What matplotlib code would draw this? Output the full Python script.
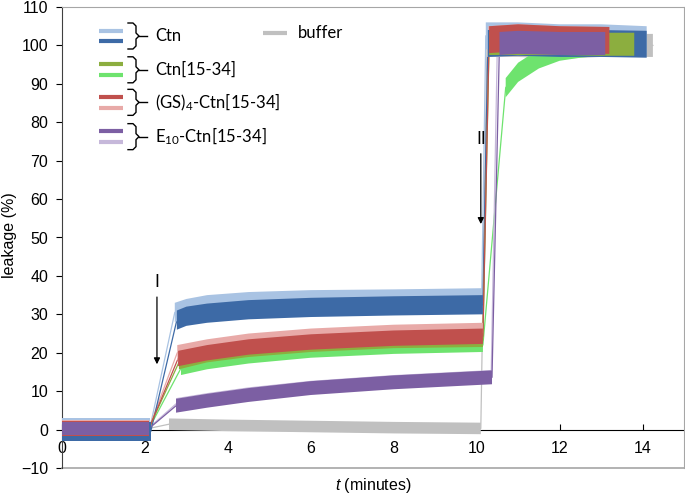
import matplotlib
matplotlib.use("Agg")
import matplotlib.pyplot as plt
from matplotlib.lines import Line2D
import numpy as np

plt.rcParams["font.family"] = "Liberation Sans"
plt.rcParams["mathtext.fontset"] = "custom"
plt.rcParams["mathtext.it"] = "Liberation Sans:italic"
plt.rcParams["mathtext.rm"] = "Liberation Sans"

# -----------------------
# DATA (nan = gap where the cuvette was opened)
# -----------------------
GAP = np.nan

ctn_light_t = [0, 2.12, GAP, 2.72, 3.0, 3.5, 4.5, 6.0, 8.0, 10.12, GAP, 10.22, 11.0, 12.0, 13.0, 14.1]
ctn_light_v = [0.5, 0.5, GAP, 30.5, 31.5, 32.5, 33.3, 33.8, 34.0, 34.3, GAP, 102.5, 102.5, 102.0, 102.0, 101.5]

ctn_dark_t = [0, 2.14, GAP, 2.77, 3.0, 3.5, 4.5, 6.0, 8.0, 10.15, GAP, 10.27, 11.0, 12.0, 13.0, 14.1]
ctn_dark_v = [-0.5, -0.5, GAP, 28.5, 29.5, 30.3, 31.2, 31.8, 32.2, 32.5, GAP, 100.5, 100.8, 100.5, 100.5, 100.3]

olive_t = [0, 2.1, GAP, 2.82, 3.5, 4.5, 6.0, 8.0, 10.15, GAP, 10.3, 11.0, 12.0, 13.0, 13.8]
olive_v = [0.5, 0.5, GAP, 17.5, 19.3, 20.7, 22.0, 23.0, 23.3, GAP, 100.5, 100.5, 100.5, 100.3, 100.3]

green_t = [0, 2.1, GAP, 2.87, 3.5, 4.5, 6.0, 8.0, 10.15, GAP, 10.7, 11.0, 11.5, 12.0, 12.5, 13.0, 13.6]
green_v = [0.3, 0.3, GAP, 16.0, 17.5, 19.0, 20.5, 21.5, 22.0, GAP, 89.0, 93.0, 96.5, 98.5, 99.3, 99.8, 100.0]

red_t = [0, 2.1, GAP, 2.8, 3.5, 4.5, 6.0, 8.0, 10.15, GAP, 10.3, 11.0, 12.0, 13.2]
red_v = [0.3, 0.3, GAP, 18.5, 20.0, 21.5, 22.8, 23.8, 24.3, GAP, 101.5, 102.0, 101.5, 101.3]

pink_t = [0, 2.1, GAP, 2.78, 3.5, 4.5, 6.0, 8.0, 10.15, GAP, 10.28, 11.0, 12.0, 13.2]
pink_v = [0.5, 0.5, GAP, 20.0, 21.5, 23.0, 24.3, 25.3, 25.8, GAP, 102.0, 102.5, 102.0, 101.8]

purple_t = [0, 2.1, GAP, 2.75, 3.5, 4.5, 6.0, 8.0, 10.37, GAP, 10.55, 11.0, 12.0, 13.1]
purple_v = [0.3, 0.3, GAP, 6.2, 7.5, 9.0, 10.8, 12.3, 13.6, GAP, 100.5, 100.8, 100.5, 100.5]

lavender_t = [0, 2.1, GAP, 2.75, 3.5, 4.5, 6.0, 8.0, 10.35, GAP, 10.5, 11.0, 12.0, 13.1]
lavender_v = [0.5, 0.5, GAP, 6.7, 8.0, 9.5, 11.2, 12.7, 14.0, GAP, 101.0, 101.3, 101.0, 101.0]

buffer_t = [0, 2.1, GAP, 2.58, 4.0, 6.0, 8.0, 10.1, GAP, 10.25, 11.0, 12.0, 13.0, 14.25]
buffer_v = [0.3, 0.3, GAP, 1.4, 1.1, 0.8, 0.5, 0.3, GAP, 100.0, 100.0, 99.5, 100.0, 100.0]

# noise half-width of each trace (%): (below 50 %, after full lysis)
noise = {"ctn_light": (2.5, 3.5), "ctn_dark": (2.5, 3.5), "olive": (1.8, 3.0),
         "green": (1.8, 2.5), "red": (2.0, 3.5), "pink": (2.0, 3.0),
         "purple": (1.8, 3.0), "lavender": (1.5, 2.5), "buffer": (1.5, 3.0)}

colors = {"ctn_light": "#a9c3e3", "ctn_dark": "#3d6aa6", "olive": "#8cae3f",
          "green": "#6ee36e", "red": "#c0504d", "pink": "#e8aaa8",
          "purple": "#7c5fa3", "lavender": "#c6b8da", "buffer": "#c0c0c0"}

# drawing order (back to front)
traces = [
    ("buffer", buffer_t, buffer_v),
    ("ctn_light", ctn_light_t, ctn_light_v),
    ("green", green_t, green_v),
    ("pink", pink_t, pink_v),
    ("lavender", lavender_t, lavender_v),
    ("ctn_dark", ctn_dark_t, ctn_dark_v),
    ("olive", olive_t, olive_v),
    ("red", red_t, red_v),
    ("purple", purple_t, purple_v),
]

# injection arrows: label, time, arrow top, arrow bottom
arrow_labels = ["I", "II"]
arrow_t = [2.29, 10.1]
arrow_top = [34.5, 71.8]
arrow_bottom = [17.0, 53.5]

# -----------------------
# FIGURE
# -----------------------
W, H = 685, 495
fig = plt.figure(figsize=(W / 100, H / 100), dpi=100)
ax = fig.add_axes([62 / W, 1 - 468 / H, (684 - 62) / W, (468 - 7) / H])

text_font = "Lato"

for name, t, v in traces:
    t = np.array(t, dtype=float)
    v = np.array(v, dtype=float)
    c = colors[name]
    lo, hi = noise[name]
    hw = np.where(v > 50, hi, lo)
    ok = ~np.isnan(t)
    # thin connecting line across the gaps
    ax.plot(t[ok], v[ok], color=c, lw=0.9, zorder=2)
    # noisy band
    ax.fill_between(t, v - hw, v + hw, color=c, lw=0, zorder=3)

for lab, x, y0, y1 in zip(arrow_labels, arrow_t, arrow_top, arrow_bottom):
    ax.annotate("", xy=(x, y1), xytext=(x, y0),
                arrowprops=dict(arrowstyle="-|>", color="black", lw=0.9,
                                mutation_scale=9, shrinkA=0, shrinkB=0))
    ax.text(x, y0 + 3.8, lab, ha="center", va="center", fontsize=12.5,
            family=text_font)

ax.set_xlim(0, 15)
ax.set_ylim(-10, 110)
ax.set_xticks(range(0, 16, 2))
ax.set_yticks(range(-10, 111, 10))

for s in ["top", "right"]:
    ax.spines[s].set_color("#a6a6a6")
ax.spines["left"].set_color("#404040")
ax.spines["bottom"].set_position(("data", 0))
ax.spines["bottom"].set_color("black")
ax.spines["bottom"].set_zorder(1)
ax.plot([0, 1], [0, 0], transform=ax.transAxes, color="#a6a6a6", lw=1.2, clip_on=False)

ax.tick_params(axis="x", direction="in", length=4, pad=8, labelsize=11.5)
ax.tick_params(axis="y", direction="out", length=4, pad=6, labelsize=11.5)

ax.set_xlabel("$\\it{t}$ (minutes)", fontsize=11.5)
ax.xaxis.label.set_va("center")
ax.xaxis.set_label_coords(0.5, -0.037)
ax.set_ylabel("leakage (%)", fontsize=11.5)
ax.yaxis.label.set_va("center")
ax.yaxis.set_label_coords(-0.085, 0.505)


# -----------------------
# HAND-MADE LEGEND (figure pixels)
# -----------------------
def px(x, y):
    return x / W, 1 - y / H


def seg(x0, x1, y, c):
    (a, b), (cc, d) = px(x0, y), px(x1, y)
    fig.add_artist(Line2D([a, cc], [b, d], color=c, lw=3, solid_capstyle="butt"))


def brace(yc):
    pts = [(128, yc - 13), (133, yc - 13), (136, yc - 10), (136, yc - 3), (139, yc),
           (136, yc + 3), (136, yc + 10), (133, yc + 13), (128, yc + 13)]
    xs, ys = zip(*[px(a, b) for a, b in pts])
    fig.add_artist(Line2D(xs, ys, color="black", lw=1.0))
    (a, b), (cc, d) = px(139, yc), px(147, yc)
    fig.add_artist(Line2D([a, cc], [b, d], color="black", lw=1.0))


leg_rows = [
    ("ctn_light", "ctn_dark", "Ctn", 30.7, 41.3),
    ("olive", "green", "Ctn[15-34]", 64.3, 75.3),
    ("red", "pink", "(GS)$_\\mathregular{4}$-Ctn[15-34]", 97.0, 107.7),
    ("purple", "lavender", "E$_\\mathregular{10}$-Ctn[15-34]", 131.0, 142.3),
]
for c1, c2, label, y1, y2 in leg_rows:
    seg(99, 123, y1, colors[c1])
    seg(99, 123, y2, colors[c2])
    yc = (y1 + y2) / 2
    brace(yc)
    fig.text(*px(155, yc), label, ha="left", va="center", fontsize=12, family=text_font)

seg(263, 287, 33.3, colors["buffer"])
fig.text(*px(298, 33.3), "buffer", ha="left", va="center", fontsize=12, family=text_font)

fig.savefig("out.png", dpi=100)
